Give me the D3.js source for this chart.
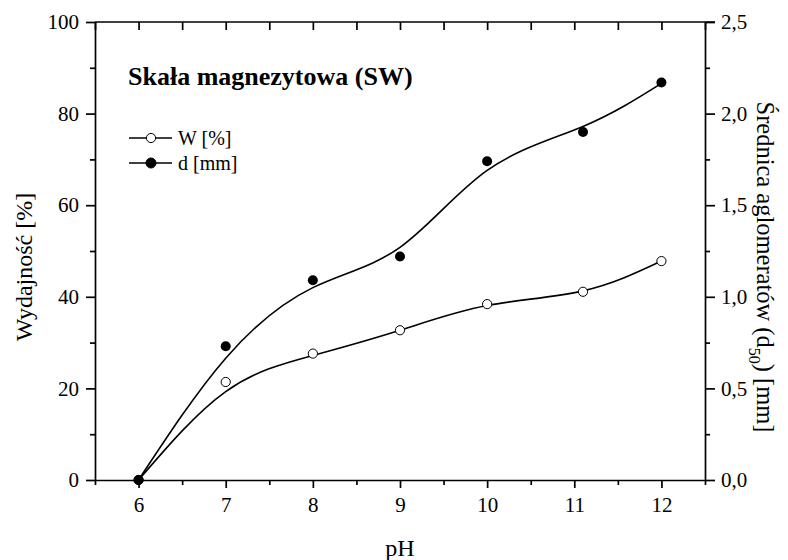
<!DOCTYPE html>
<html lang="pl">
<head>
<meta charset="utf-8">
<title>Skała magnezytowa (SW)</title>
<script src="https://d3js.org/d3.v7.min.js"></script>
<style>
  body { margin: 0; background: #fff; }
  svg text { font-family: "Liberation Serif", "Times New Roman", serif; fill: #000; }
  .axis path, .axis line { stroke: #000; stroke-width: 1.7px; }
</style>
</head>
<body>
<script>
// measured values (pH, W %, d mm)
var pH = [6, 7, 8, 9, 10, 11.1, 12];
var wVal = [0, 21.4, 27.6, 32.7, 38.4, 41.1, 47.8];
var dVal = [0, 0.73, 1.09, 1.22, 1.74, 1.90, 2.17];
// fitted curves at the same pH
var wFit = [0, 19.3, 27.2, 32.7, 38.1, 41.3, 47.8];
var dFit = [0, 0.665, 1.05, 1.27, 1.69, 1.93, 2.165];

var xTicks = [6, 7, 8, 9, 10, 11, 12];
var xMinor = [5.5, 6.5, 7.5, 8.5, 9.5, 10.5, 11.5, 12.5];
var yLeftTicks = [0, 20, 40, 60, 80, 100];
var yLeftMinor = [10, 30, 50, 70, 90];
var yRightTicks = [0, 0.5, 1.0, 1.5, 2.0, 2.5];
var yRightMinor = [0.25, 0.75, 1.25, 1.75, 2.25];

var w = 788, h = 560;
var pLeft = 95, pRight = 705, pTop = 22, pBottom = 480;

var svg = d3.select("body").append("svg")
  .attr("width", w).attr("height", h);

var x = d3.scaleLinear().domain([5.5, 12.5]).range([pLeft, pRight]);
var yL = d3.scaleLinear().domain([0, 100]).range([pBottom, pTop]);
var yR = d3.scaleLinear().domain([0, 2.5]).range([pBottom, pTop]);

var comma = function(v) { return d3.format(".1f")(v).replace(".", ","); };

// minor ticks first
function minor(axis, scale, vals, tr) {
  svg.append("g").attr("class", "axis").attr("transform", tr)
    .call(axis(scale).tickValues(vals).tickSize(5).tickFormat(""))
    .call(function(g) { g.select(".domain").remove(); });
}
minor(d3.axisBottom, x, xMinor, "translate(0," + pBottom + ")");
minor(d3.axisLeft, yL, yLeftMinor, "translate(" + pLeft + ",0)");
minor(d3.axisRight, yR, yRightMinor, "translate(" + pRight + ",0)");

// top axis, ticks inward
svg.append("g").attr("class", "axis").attr("transform", "translate(0," + pTop + ")")
  .call(d3.axisBottom(x).tickValues(xTicks.concat(xMinor)).tickSizeInner(8).tickSizeOuter(0).tickFormat(""))
  .call(function(g) { g.select(".domain").attr("d", "M" + pLeft + ",0H" + (pRight + 10)); });

svg.append("g").attr("class", "axis").attr("transform", "translate(0," + pBottom + ")")
  .call(d3.axisBottom(x).tickValues(xTicks).tickSizeInner(8).tickSizeOuter(0).tickPadding(9).tickFormat(d3.format("d")));

svg.append("g").attr("class", "axis").attr("transform", "translate(" + pLeft + ",0)")
  .call(d3.axisLeft(yL).tickValues(yLeftTicks).tickSizeInner(9).tickSizeOuter(0).tickPadding(7).tickFormat(d3.format("d")));

svg.append("g").attr("class", "axis").attr("transform", "translate(" + pRight + ",0)")
  .call(d3.axisRight(yR).tickValues(yRightTicks).tickSizeInner(10).tickSizeOuter(0).tickPadding(6).tickFormat(comma));

svg.selectAll(".axis text")
  .attr("font-size", "21px")
  .style("font-family", "'Liberation Serif', serif");

// curves
var lineL = d3.line().x(function(d) { return x(d[0]); }).y(function(d) { return yL(d[1]); }).curve(d3.curveNatural);
var lineR = d3.line().x(function(d) { return x(d[0]); }).y(function(d) { return yR(d[1]); }).curve(d3.curveNatural);

svg.append("path")
  .attr("d", lineL(d3.zip(pH, wFit)))
  .attr("fill", "none").attr("stroke", "#000").attr("stroke-width", 1.6);
svg.append("path")
  .attr("d", lineR(d3.zip(pH, dFit)))
  .attr("fill", "none").attr("stroke", "#000").attr("stroke-width", 1.6);

// points
svg.selectAll(".pw").data(d3.zip(pH, wVal)).enter().append("circle")
  .attr("cx", function(d) { return x(d[0]); })
  .attr("cy", function(d) { return yL(d[1]); })
  .attr("r", 4.6).attr("fill", "#fff").attr("stroke", "#000").attr("stroke-width", 1);
svg.selectAll(".pd").data(d3.zip(pH, dVal)).enter().append("circle")
  .attr("cx", function(d) { return x(d[0]); })
  .attr("cy", function(d) { return yR(d[1]); })
  .attr("r", 5).attr("fill", "#000");

// title
svg.append("text").attr("x", 128).attr("y", 85)
  .attr("font-size", "26px").attr("font-weight", "bold")
  .text("Skała magnezytowa (SW)");

// legend
var legend = [["W [%]", "#fff"], ["d [mm]", "#000"]];
legend.forEach(function(l, i) {
  var ly = 138 + i * 25;
  svg.append("line").attr("x1", 129).attr("x2", 172).attr("y1", ly).attr("y2", ly)
    .attr("stroke", "#000").attr("stroke-width", 1.6);
  svg.append("circle").attr("cx", 151).attr("cy", ly).attr("r", l[1] == "#fff" ? 4.6 : 5)
    .attr("fill", l[1]).attr("stroke", "#000").attr("stroke-width", 1);
  svg.append("text").attr("x", 178).attr("y", ly + 7).attr("font-size", "20px").text(l[0]);
});

// axis titles
svg.append("text").attr("x", 400).attr("y", 556).attr("text-anchor", "middle")
  .attr("font-size", "24px").text("pH");

svg.append("text").attr("transform", "translate(32,267) rotate(-90)")
  .attr("text-anchor", "middle").attr("font-size", "24px").text("Wydajność [%]");

var rt = svg.append("text").attr("transform", "translate(757,267) rotate(90)")
  .attr("text-anchor", "middle").attr("font-size", "24.5px");
rt.append("tspan").text("Średnica aglomeratów (d");
rt.append("tspan").attr("dy", 8).attr("font-size", "16px").text("50");
rt.append("tspan").attr("dy", -8).text(") [mm]");
</script>
</body>
</html>
